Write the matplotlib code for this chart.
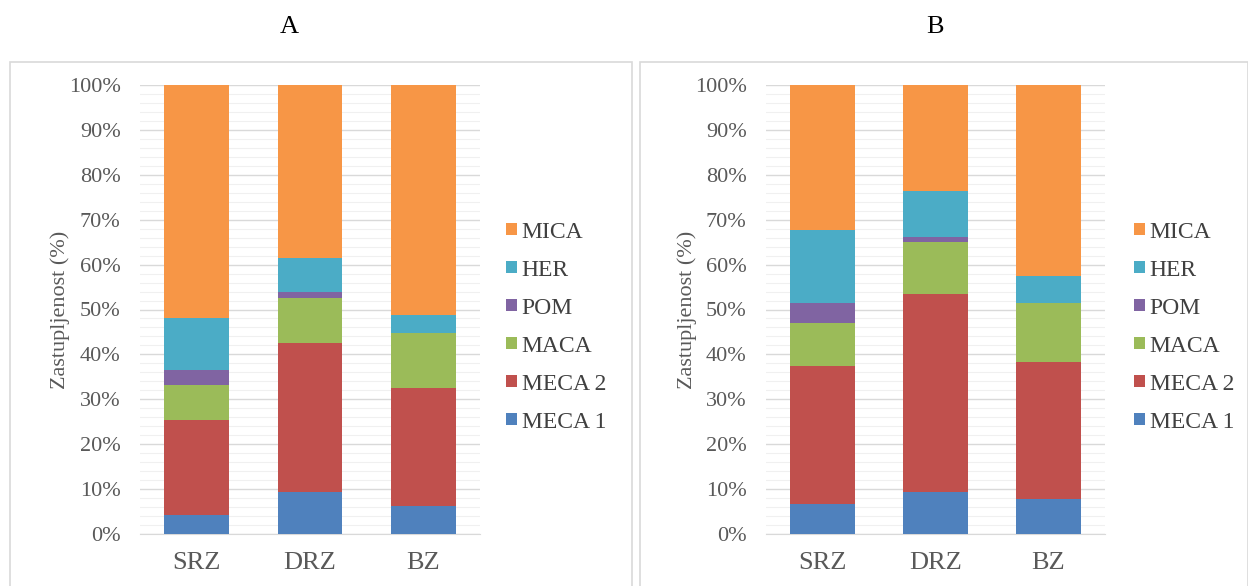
import numpy as np
import matplotlib.pyplot as plt
from matplotlib.patches import Rectangle
from matplotlib.ticker import MultipleLocator, PercentFormatter

plt.rcParams['font.family'] = ['Liberation Serif', 'DejaVu Serif']

sites = ['SRZ', 'DRZ', 'BZ']
series = ['MECA 1', 'MECA 2', 'MACA', 'POM', 'HER', 'MICA']
colors = ['#4F81BD', '#C0504D', '#9BBB59', '#8064A2', '#4BACC6', '#F79646']

# percentages per site (SRZ, DRZ, BZ)
a_meca1 = [4.2, 9.4, 6.3]
a_meca2 = [21.2, 33.1, 26.2]
a_maca = [7.8, 10.1, 12.3]
a_pom = [3.3, 1.4, 0.0]
a_her = [11.6, 7.5, 4.0]
a_mica = [51.9, 38.5, 51.2]

b_meca1 = [6.7, 9.4, 7.8]
b_meca2 = [30.7, 44.0, 30.6]
b_maca = [9.6, 11.7, 13.0]
b_pom = [4.5, 1.1, 0.0]
b_her = [16.2, 10.3, 6.1]
b_mica = [32.3, 23.5, 42.5]

panels = {
    'A': [a_meca1, a_meca2, a_maca, a_pom, a_her, a_mica],
    'B': [b_meca1, b_meca2, b_maca, b_pom, b_her, b_mica],
}

fig = plt.figure(figsize=(12.48, 5.86), dpi=100)

# panel frames
for x0, w in [(10, 622), (640, 608)]:
    fig.patches.append(Rectangle((x0 / 1248, -0.01), w / 1248, 1 - 62 / 586 + 0.01,
                                 transform=fig.transFigure, fill=False,
                                 edgecolor='#D9D9D9', linewidth=1.2))

positions = {'A': (140, 480, 289), 'B': (766, 1105, 935)}
leg_x = {'A': 497, 'B': 1125}

for name, data in panels.items():
    left, right, tx = positions[name]
    ax = fig.add_axes([left / 1248, 1 - 534 / 586, (right - left) / 1248, (534 - 85) / 586])
    x = np.arange(len(sites))
    bottom = np.zeros(len(sites))
    handles = []
    for vals, lab, col in zip(data, series, colors):
        h = ax.bar(x, vals, 0.57, bottom=bottom, color=col, label=lab, zorder=3)
        handles.append(h)
        bottom += np.array(vals)
    ax.set_xlim(-0.5, 2.5)
    ax.set_ylim(0, 100)
    ax.yaxis.set_major_locator(MultipleLocator(10))
    ax.yaxis.set_minor_locator(MultipleLocator(2))
    ax.yaxis.set_major_formatter(PercentFormatter(decimals=0))
    ax.grid(axis='y', which='major', color='#D9D9D9', linewidth=1.0, zorder=0)
    ax.grid(axis='y', which='minor', color='#F0F0F0', linewidth=0.8, zorder=0)
    for s in ['top', 'right', 'left']:
        ax.spines[s].set_visible(False)
    ax.spines['bottom'].set_color('#D9D9D9')
    ax.tick_params(axis='both', which='both', length=0)
    ax.tick_params(axis='y', labelsize=16, labelcolor='#595959', pad=14)
    ax.tick_params(axis='x', labelsize=19, labelcolor='#595959', pad=13)
    ax.set_xticks(x)
    ax.set_xticklabels(sites)
    ax.set_ylabel('Zastupljenost (%)', fontsize=16, color='#595959', va='center')
    ax.yaxis.set_label_coords(-0.234, 0.5)
    fig.text(tx / 1248, 1 - 27 / 586, name, fontsize=19, ha='center', va='center')
    fig.legend(handles[::-1], series[::-1], loc='center left',
               bbox_to_anchor=(leg_x[name] / 1248, 1 - 327 / 586), frameon=False,
               fontsize=17, handlelength=0.45, handleheight=0.45, handletextpad=0.2,
               labelspacing=0.72, labelcolor='#404040', borderaxespad=0)

plt.savefig('out.png', dpi=100)
